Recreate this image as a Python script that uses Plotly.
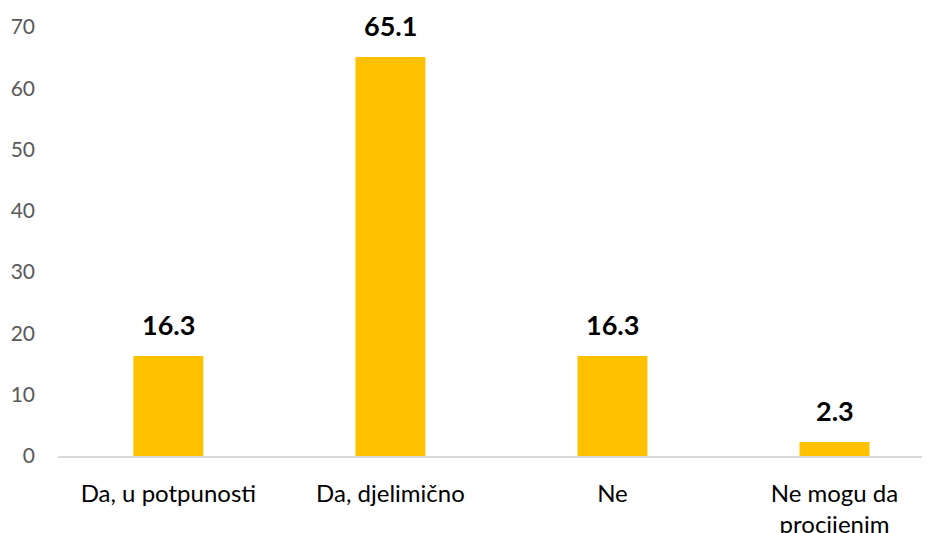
import plotly.graph_objects as go

categories = ["Da, u potpunosti", "Da, djelimično", "Ne", "Ne mogu da<br>procijenim"]
values = [16.3, 65.1, 16.3, 2.3]
value_labels = ["16.3", "65.1", "16.3", "2.3"]
y_ticks = [0, 10, 20, 30, 40, 50, 60, 70]

FONT = "Lato, Open Sans, sans-serif"

fig = go.Figure(go.Bar(
    x=categories, y=values,
    marker=dict(color="#FFC000", line=dict(width=0)),
    width=0.315,
    hoverinfo="skip",
))

for c, v, t in zip(categories, values, value_labels):
    fig.add_annotation(
        x=c, y=v, text="<b>" + t + "</b>", showarrow=False,
        yanchor="bottom", yshift=13,
        font=dict(family=FONT, size=27, color="#000000"),
    )

fig.update_layout(
    width=922, height=525,
    margin=dict(l=50, r=0, t=19, b=77),
    paper_bgcolor="white", plot_bgcolor="white",
    showlegend=False,
    font=dict(family=FONT),
)
fig.update_yaxes(
    range=[0, 70], tickvals=y_ticks, showgrid=False, zeroline=False,
    showline=False, automargin=False,
    tickfont=dict(size=21, color="#595959"),
    ticks="", ticklabelstandoff=22,
)
fig.update_xaxes(
    range=[-0.497, 3.43],
    showline=True, linecolor="#D9D9D9", linewidth=2, automargin=False,
    tickfont=dict(size=24, color="#000000"),
    ticks="", ticklabelstandoff=15,
)

fig.write_html("out.html")
